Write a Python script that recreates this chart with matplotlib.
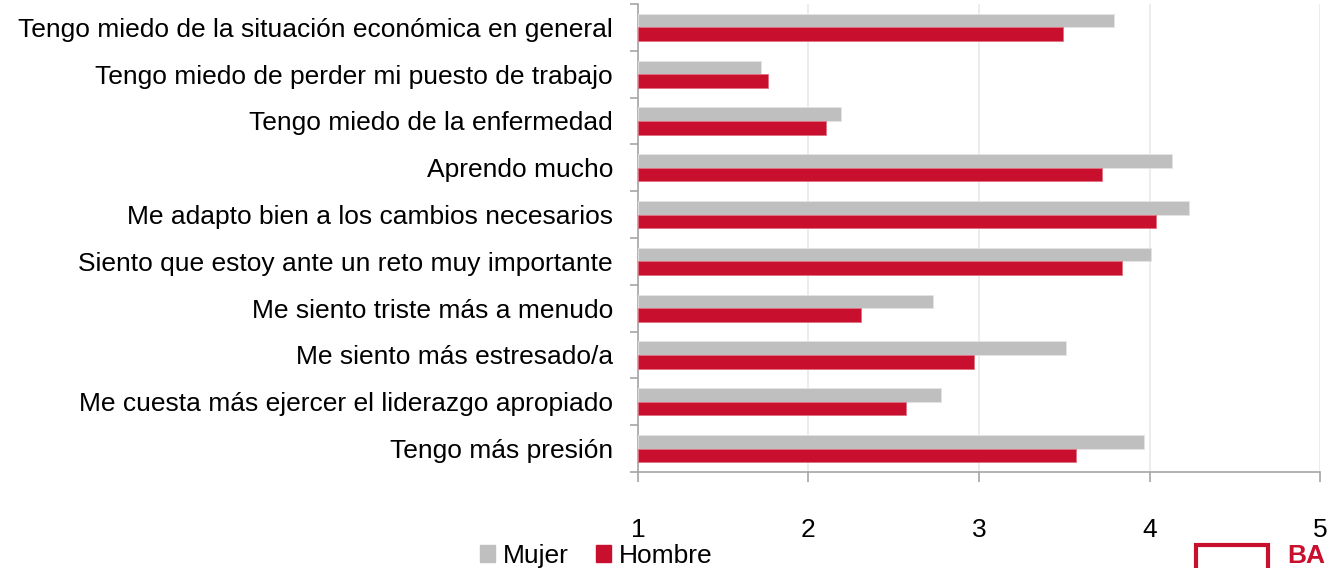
import numpy as np
import matplotlib.pyplot as plt
from matplotlib.patches import Rectangle, Patch

categories = [
    "Tengo miedo de la situación económica en general",
    "Tengo miedo de perder mi puesto de trabajo",
    "Tengo miedo de la enfermedad",
    "Aprendo mucho",
    "Me adapto bien a los cambios necesarios",
    "Siento que estoy ante un reto muy importante",
    "Me siento triste más a menudo",
    "Me siento más estresado/a",
    "Me cuesta más ejercer el liderazgo apropiado",
    "Tengo más presión",
]
mujer = [3.79, 1.72, 2.19, 4.13, 4.23, 4.01, 2.73, 3.51, 2.78, 3.97]
hombre = [3.49, 1.76, 2.10, 3.72, 4.04, 3.84, 2.31, 2.97, 2.57, 3.57]
xticks = [1, 2, 3, 4, 5]

gray = "#BFBFBF"
red = "#C8102E"
axis_col = "#A6A6A6"
fs = 19

plt.rcParams["font.family"] = ["Liberation Sans", "DejaVu Sans"]

fig = plt.figure(figsize=(13.28, 5.68), dpi=100)
ax = fig.add_axes([0.4804, 0.169, 0.5136, 0.824])

n = len(categories)
y = np.arange(n)[::-1]
h = 0.29
ax.barh(y + h / 2, np.array(mujer) - 1, left=1, height=h, color=gray,
        edgecolor="#E4E4E4", linewidth=0.6, label="Mujer", zorder=3)
ax.barh(y - h / 2, np.array(hombre) - 1, left=1, height=h, color=red,
        edgecolor="#E07080", linewidth=0.6, label="Hombre", zorder=3)

ax.set_xlim(1, 5)
ax.set_ylim(-0.5, n - 0.5)
ax.set_xticks(xticks)
ax.set_xticklabels([str(t) for t in xticks], fontsize=fs)
ax.set_yticks(y)
ax.set_yticklabels(categories, fontsize=fs)
ax.tick_params(axis="y", which="major", length=0, pad=18)
ax.set_yticks(np.arange(-0.5, n, 1), minor=True)
ax.tick_params(axis="y", which="minor", length=6, color=axis_col, width=1.2)
ax.tick_params(axis="x", length=7, color=axis_col, width=1.2, pad=26)

ax.grid(axis="x", color="#EBEBEB", linewidth=1.3, zorder=0)
for s in ["top", "right"]:
    ax.spines[s].set_visible(False)
for s in ["left", "bottom"]:
    ax.spines[s].set_color(axis_col)
    ax.spines[s].set_linewidth(1.2)

handles = [Patch(color=gray, label="Mujer"), Patch(color=red, label="Hombre")]
fig.legend(handles=handles, loc="center", bbox_to_anchor=(0.449, 0.021),
           ncol=2, frameon=False, fontsize=fs, handlelength=0.6,
           handleheight=0.6, handletextpad=0.3, columnspacing=1.0,
           borderaxespad=0, borderpad=0)

# logo fragment bottom right
fig.patches.append(Rectangle((1196 / 1328, -0.02), 72 / 1328, 0.06,
                             transform=fig.transFigure, fill=False,
                             edgecolor=red, linewidth=3))
fig.text(1287 / 1328, 0.008, "BA", color=red, fontsize=19, fontweight="bold",
         va="baseline", ha="left")

fig.savefig("out.png", dpi=100)
